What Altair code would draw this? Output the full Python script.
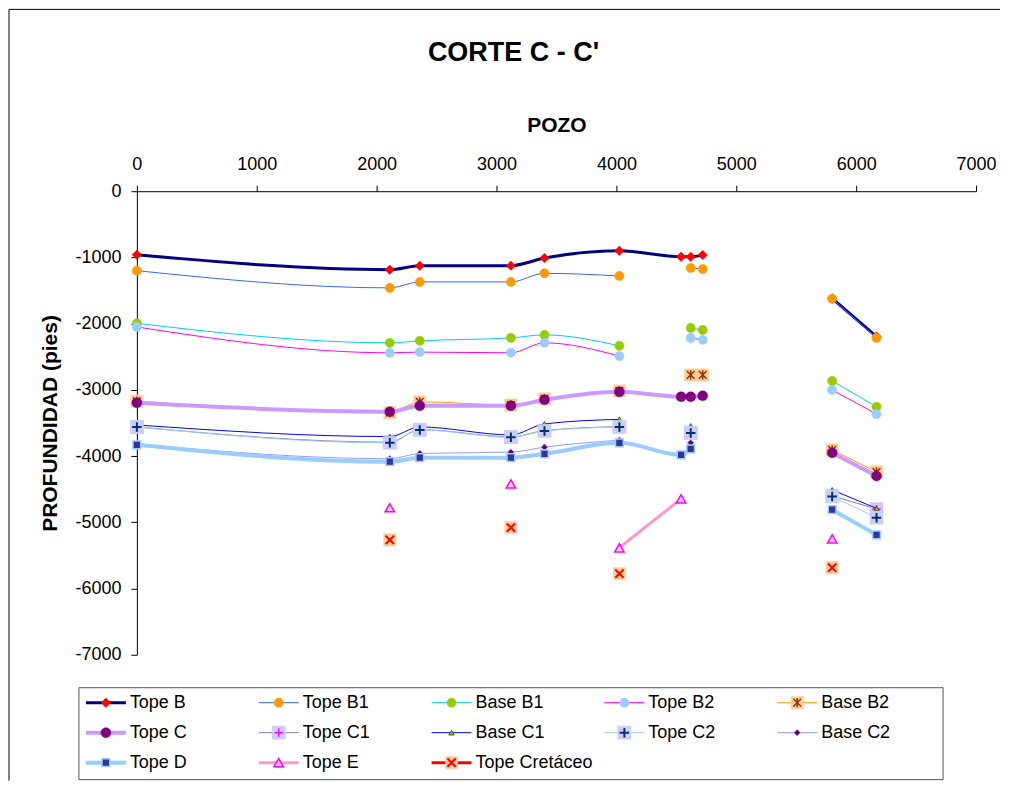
import altair as alt
import pandas as pd

FONT = "Liberation Sans"

# ---------------- data ----------------
POZO_X = [0, 2110, 2360, 3120, 3400, 4025, 4540, 4620, 4720, 5800, 6170]
TRAMO = [1, 1, 1, 1, 1, 1, 1, 1, 1, 2, 2]

SERIES = ["Tope B", "Tope B1", "Base B1", "Tope B2", "Base B2",
          "Tope C", "Tope C1", "Base C1", "Tope C2", "Base C2",
          "Tope D", "Tope E", "Tope Cretáceo"]

N = None
tope_b = [-960, -1185, -1125, -1125, -1010, -900, -990, -990, -965, -1620, -2195]
tope_b1 = [-1200, -1460, -1370, -1370, -1240, -1280, N, -1160, -1175, -1625, -2215]
base_b1 = [-1995, -2290, -2260, -2215, -2170, -2335, N, -2065, -2095, -2865, -3255]
tope_b2 = [-2050, -2440, -2430, -2440, -2290, -2490, N, -2215, -2245, -3000, -3365]
base_b2 = [-3170, -3345, -3180, -3230, -3135, -3015, N, -2775, -2775, -3905, -4240]
tope_c = [-3195, -3330, -3240, -3240, -3150, -3030, -3105, -3105, -3090, -3950, -4300]
tope_c1 = [-3560, -3790, -3600, -3710, -3615, -3555, N, -3645, N, -4600, -4800]
base_c1 = [-3530, -3705, -3560, -3680, -3515, -3445, N, -3545, N, -4510, -4790]
tope_c2 = [-3560, -3800, -3605, -3715, -3620, -3560, N, -3650, N, -4610, -4930]
base_c2 = [-3820, -4040, -3960, -3940, -3865, -3760, N, -3800, N, -4800, -5180]
tope_d = [-3830, -4085, -4025, -4025, -3965, -3800, -3980, -3890, N, -4810, -5190]
tope_e = [N, -4780, N, -4420, N, -5385, -4645, N, N, -5250, N]
tope_cret = [N, -5265, N, -5080, N, -5775, N, N, N, -5685, N]

VALUES = [tope_b, tope_b1, base_b1, tope_b2, base_b2, tope_c, tope_c1,
          base_c1, tope_c2, base_c2, tope_d, tope_e, tope_cret]

# ---------------- styles ----------------
LINE_STYLE = {
    "Tope B": ("#000080", 3),
    "Tope B1": ("#3366FF", 1),
    "Base B1": ("#00CCFF", 1),
    "Tope B2": ("#FF00FF", 1),
    "Base B2": ("#FF9900", 1),
    "Tope C": ("#CC99FF", 4),
    "Tope C1": ("#8080A8", 1),
    "Base C1": ("#0000FF", 1),
    "Tope C2": ("#99CCFF", 1),
    "Base C2": ("#9999FF", 1),
    "Tope D": ("#99CCFF", 4),
    "Tope E": ("#FF99CC", 3),
    "Tope Cretáceo": ("#FF0000", 3),
}

X_PATH = "M-1,-1L1,1M-1,1L1,-1"
PLUS_PATH = "M-1,0L1,0M0,-1L0,1"
AST_PATH = "M-1,-1L1,1M-1,1L1,-1M0,-1.2L0,1.2"

MARKERS = {
    "Tope B": [dict(shape="diamond", size=90, fill="#FF0000", stroke="#FF0000", sw=0.5)],
    "Tope B1": [dict(shape="circle", size=85, fill="#FF9900", stroke="#FF9900", sw=0.5)],
    "Base B1": [dict(shape="circle", size=85, fill="#99CC00", stroke="#99CC00", sw=0.5)],
    "Tope B2": [dict(shape="circle", size=85, fill="#99CCFF", stroke="#99CCFF", sw=0.5)],
    "Base B2": [dict(shape="square", size=150, fill="#FFCC99", stroke="#FFCC99", sw=0.5),
                dict(shape=AST_PATH, size=60, fill=None, stroke="#993300", sw=1.5)],
    "Tope C": [dict(shape="circle", size=100, fill="#800080", stroke="#800080", sw=0.5)],
    "Tope C1": [dict(shape="square", size=170, fill="#CCCCFF", stroke="#CCCCFF", sw=0.5),
                dict(shape=PLUS_PATH, size=70, fill=None, stroke="#FF00FF", sw=1.5)],
    "Base C1": [dict(shape="triangle-up", size=30, fill="#99CC00", stroke="#333300", sw=0.8)],
    "Tope C2": [dict(shape="square", size=170, fill="#CCCCFF", stroke="#CCCCFF", sw=0.5),
                dict(shape=PLUS_PATH, size=90, fill=None, stroke="#003366", sw=2)],
    "Base C2": [dict(shape="diamond", size=45, fill="#660066", stroke="#CC99FF", sw=0.8)],
    "Tope D": [dict(shape="square", size=60, fill="#333399", stroke="#99CCFF", sw=1.5)],
    "Tope E": [dict(shape="triangle-up", size=90, fill="#FFCCEE", stroke="#FF00FF", sw=1.5)],
    "Tope Cretáceo": [dict(shape="square", size=150, fill="#FFCC99", stroke="#FFCC99", sw=0.5),
                      dict(shape=X_PATH, size=70, fill=None, stroke="#FF0000", sw=2)],
}

# ---------------- tables ----------------
rows = []
for name, vals in zip(SERIES, VALUES):
    seg = 0
    prev_tramo = None
    for x, t, v in zip(POZO_X, TRAMO, vals):
        if v is None:
            seg += 1
            continue
        if prev_tramo is not None and t != prev_tramo:
            seg += 1
        prev_tramo = t
        rows.append(dict(serie=name, pozo=x, prof=v, seg=f"{name}-{seg}"))
df = pd.DataFrame(rows)

leg = pd.DataFrame({
    "serie": SERIES,
    "col": [i % 5 for i in range(len(SERIES))],
    "row": [i // 5 for i in range(len(SERIES))],
})


def point_layers(base, name, x, y, xoff=0):
    out = []
    for m in MARKERS[name]:
        kw = dict(shape=m["shape"], size=m["size"], opacity=1,
                  stroke=m["stroke"], strokeWidth=m["sw"])
        if m["fill"] is None:
            kw["filled"] = False
        else:
            kw["filled"] = True
            kw["fill"] = m["fill"]
        if xoff:
            kw["xOffset"] = xoff
        out.append(base.transform_filter(alt.datum.serie == name)
                   .mark_point(**kw).encode(x=x, y=y))
    return out


# ---------------- main plot ----------------
x_enc = alt.X("pozo:Q",
              scale=alt.Scale(domain=[0, 7000], nice=False, zero=False),
              axis=alt.Axis(orient="top", values=list(range(0, 7001, 1000)),
                            title="POZO", grid=False, format="d",
                            labelFlush=False, labelPadding=12,
                            titlePadding=20))
y_enc = alt.Y("prof:Q",
              scale=alt.Scale(domain=[-7000, 0], nice=False),
              axis=alt.Axis(values=list(range(0, -7001, -1000)),
                            title="PROFUNDIDAD (pies)", grid=False,
                            labelExpr="'' + datum.value"))

base = alt.Chart(df)
main_layers = []
for name in SERIES:
    c, w = LINE_STYLE[name]
    main_layers.append(
        base.transform_filter(alt.datum.serie == name)
        .mark_line(color=c, strokeWidth=w, interpolate="monotone")
        .encode(x=x_enc, y=y_enc, detail="seg:N")
    )
    main_layers += point_layers(base, name, x_enc, y_enc)
main = alt.layer(*main_layers)

# ---------------- legend ----------------
xl = alt.X("col:Q", scale=alt.Scale(domain=[0, 4], range=[-51, 641]), axis=None)
yl = alt.Y("row:Q", scale=alt.Scale(domain=[0, 2], range=[512, 572]), axis=None)
lbase = alt.Chart(leg)
one = alt.Chart(pd.DataFrame({"k": [0]}))

leg_layers = [
    one.mark_rect(fill="white", stroke="#555555", strokeWidth=1).encode(
        x=alt.value(-58), x2=alt.value(807), y=alt.value(497), y2=alt.value(589)),
]
for name in SERIES:
    c, w = LINE_STYLE[name]
    leg_layers.append(
        lbase.transform_filter(alt.datum.serie == name)
        .mark_rule(color=c, strokeWidth=w, x2Offset=40)
        .encode(x=xl, x2="col:Q", y=yl)
    )
    leg_layers += point_layers(lbase, name, xl, yl, xoff=20)
leg_layers.append(
    lbase.mark_text(align="left", baseline="middle", dx=44, fontSize=18,
                    font=FONT, color="black")
    .encode(x=xl, y=yl, text="serie:N")
)
legend = alt.layer(*leg_layers)

# outer frame (chart area border, left and top edges)
frame = alt.layer(
    one.mark_rule(color="#000000", strokeWidth=1).encode(
        x=alt.value(-128), y=alt.value(-182), y2=alt.value(590)),
    one.mark_rule(color="#000000", strokeWidth=1).encode(
        x=alt.value(-128), x2=alt.value(864), y=alt.value(-182)),
)

chart = (
    alt.layer(frame, main, legend)
    .resolve_scale(x="independent", y="independent")
    .properties(
        width=840, height=464,
        padding={"left": 0, "top": 0, "right": 0, "bottom": 0},
        title=alt.TitleParams("CORTE C - C'", fontSize=27, font=FONT,
                              fontWeight="bold", anchor="middle", dx=-43,
                              color="black", offset=-58),
    )
    .configure_view(stroke=None)
    .configure_axis(
        labelFont=FONT, titleFont=FONT, labelFontSize=18, titleFontSize=21,
        titleFontWeight="bold", labelColor="black", titleColor="black",
        domainColor="black", tickColor="black", tickSize=6,
        labelPadding=10, titlePadding=14,
    )
)

chart.save("out.html", embed_options={"renderer": "svg", "actions": False})
